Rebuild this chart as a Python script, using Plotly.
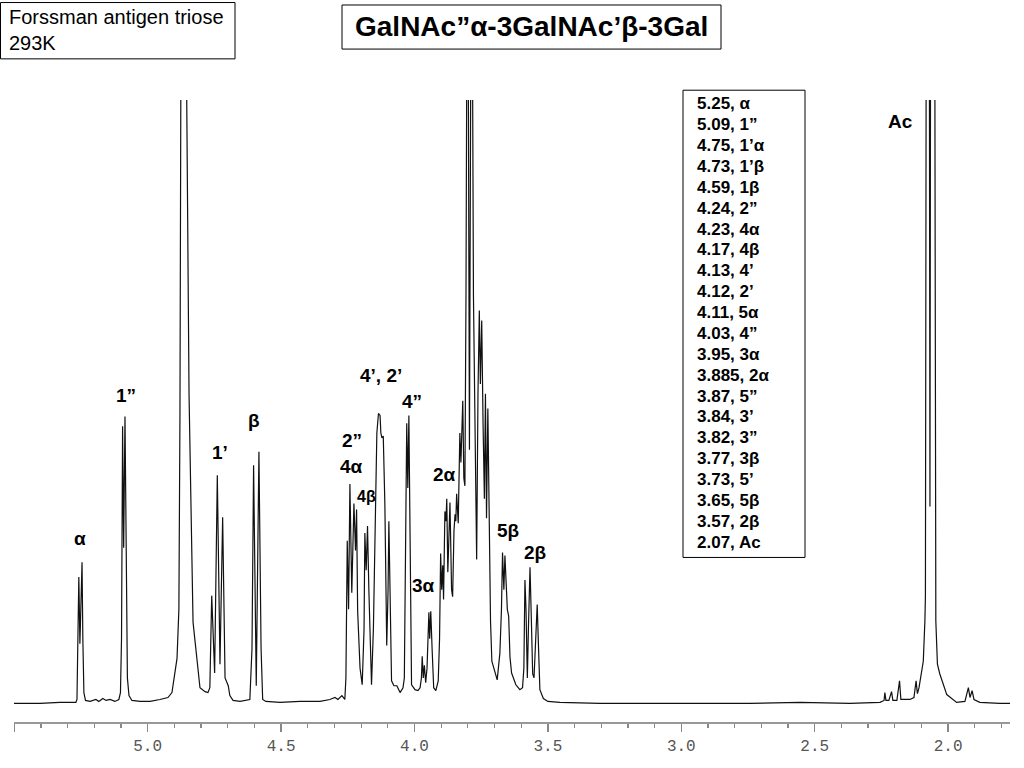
import plotly.graph_objects as go

# ---- spectrum trace (chemical shift in ppm, intensity in arbitrary units) ----
ppm = [
    5.501, 5.404, 5.329, 5.269,
    5.265, 5.260, 5.258, 5.254, 5.250, 5.246, 5.243, 5.239, 5.233,
    5.216, 5.194, 5.183, 5.168, 5.156, 5.141, 5.123, 5.108,
    5.102, 5.098, 5.094, 5.090, 5.085, 5.079, 5.076, 5.070, 5.059, 5.029, 4.991, 4.954, 4.924,
    4.909, 4.898, 4.890, 4.883, 4.879,
    4.875, 4.866, 4.856, 4.845, 4.830, 4.816, 4.804, 4.785, 4.774, 4.767,
    4.760, 4.749, 4.739, 4.729, 4.719, 4.710, 4.698, 4.692, 4.680, 4.654, 4.624,
    4.617, 4.609, 4.603, 4.593, 4.583, 4.575, 4.569, 4.557,
    4.504, 4.429, 4.354, 4.317, 4.298, 4.287, 4.272, 4.261,
    4.257, 4.252, 4.247, 4.242, 4.235, 4.227, 4.221, 4.217, 4.213, 4.204, 4.196,
    4.189, 4.186, 4.181, 4.176, 4.171, 4.165, 4.161,
    4.154, 4.146, 4.141, 4.135, 4.129, 4.126, 4.122, 4.117, 4.113, 4.111, 4.104, 4.099, 4.096,
    4.092, 4.086, 4.077, 4.066, 4.054, 4.043,
    4.038, 4.034, 4.029, 4.025, 4.021, 4.016, 4.011, 3.998, 3.987, 3.979,
    3.974, 3.971, 3.967, 3.963, 3.958, 3.953, 3.948, 3.946, 3.943, 3.939, 3.934, 3.928, 3.920, 3.911,
    3.906, 3.902, 3.898, 3.894, 3.891, 3.886, 3.882, 3.879, 3.875, 3.867, 3.861, 3.857, 3.852,
    3.848, 3.845, 3.842, 3.836, 3.831, 3.830, 3.826, 3.823, 3.819, 3.815, 3.811, 3.807, 3.801,
    3.794, 3.786, 3.779, 3.773, 3.767, 3.762, 3.757, 3.753, 3.748, 3.743, 3.738, 3.734, 3.730,
    3.725, 3.720, 3.715, 3.710, 3.700, 3.690, 3.680, 3.674,
    3.670, 3.665, 3.661, 3.657, 3.655, 3.652, 3.647, 3.644, 3.642, 3.636, 3.630, 3.620, 3.605,
    3.595, 3.590,
    3.586, 3.582, 3.577, 3.573, 3.567, 3.562, 3.557, 3.552, 3.547, 3.540, 3.535, 3.530, 3.517, 3.500,
    3.455, 3.305, 3.117, 2.930, 2.743, 2.555, 2.368, 2.255, 2.240, 2.237, 2.233, 2.222, 2.212,
    2.207, 2.192, 2.182, 2.177, 2.143, 2.128, 2.120, 2.115, 2.109, 2.104, 2.099, 2.093, 2.087,
    2.085, 2.082, 2.074, 2.068, 2.062, 2.050, 2.046, 2.040, 2.031, 2.005, 1.968, 1.937, 1.924,
    1.918, 1.910, 1.903, 1.881, 1.806, 1.768,
]
intensity = [
    0, 0, 1, 1,
    4, 76, 129, 61, 96, 144, 66, 11, 3,
    2, 4, 2, 5, 3, 4, 2, 4,
    11, 66, 283, 159, 293, 116, 26, 8, 3, 2, 2, 4, 6,
    11, 33, 46, 96, 296,
    700, 1400, 700, 316, 83, 49, 16, 12, 11, 16,
    110, 31, 233, 40, 190, 26, 18, 8, 3, 2, 3,
    4, 56, 243, 18, 257, 56, 4, 2,
    1, 2, 2, 4, 6, 4, 8, 4,
    26, 166, 96, 224, 113, 204, 156, 198, 94, 36, 19,
    76, 174, 136, 181, 116, 36, 19,
    76, 216, 276, 296, 294, 276, 271, 273, 216, 203, 59, 116, 186,
    106, 23, 18, 18, 11, 16,
    26, 156, 286, 220, 294, 156, 19, 14, 13, 16,
    26, 48, 26, 39, 21, 36, 76, 93, 66, 94, 56, 16, 13, 23,
    66, 153, 116, 141, 106, 196, 186, 209, 134, 205, 116, 109, 176,
    193, 186, 214, 184, 246, 276, 246, 272, 309, 230, 222, 416, 900,
    259, 900, 416, 256, 147, 316, 401, 326, 391, 286, 209, 316, 189,
    301, 156, 84, 43, 33, 24, 51, 96,
    154, 116, 151, 121, 118, 96, 89, 66, 47, 31, 26, 19, 14,
    16, 36,
    126, 96, 26, 76, 139, 86, 30, 26, 56, 101, 56, 14, 5, 2,
    1, 0, 0, 0, 0, 1, 0, 1, 3, 11, 3, 3, 12,
    3, 3, 23, 4, 4, 6, 23, 10, 16, 26, 34, 43, 84,
    110, 700, 1500, 201, 1500, 700, 84, 40, 30, 9, 1, 2, 16,
    6, 13, 4, 1, 0, 0,
]

# ---- axis ticks ----
tick_vals = [5.5, 5.0, 4.5, 4.0, 3.5, 3.0, 2.5, 2.0]
tick_text = ["", "5.0", "4.5", "4.0", "3.5", "3.0", "2.5", "2.0"]

# ---- peak labels and assignment list ----
peak_labels = ["α", "1”", "1’", "β", "2”", "4α", "4β", "4’, 2’", "4”", "2α", "3α", "5β", "2β", "Ac"]
assignments = [
    "5.25, α", "5.09, 1”", "4.75, 1’α", "4.73, 1’β", "4.59, 1β", "4.24, 2”", "4.23, 4α",
    "4.17, 4β", "4.13, 4’", "4.12, 2’", "4.11, 5α", "4.03, 4”", "3.95, 3α", "3.885, 2α",
    "3.87, 5”", "3.84, 3’", "3.82, 3”", "3.77, 3β", "3.73, 5’", "3.65, 5β", "3.57, 2β", "2.07, Ac",
]
title_text = "GalNAc”α-3GalNAc’β-3Gal"
sample_text = "Forssman antigen triose<br>293K"

W, H = 1024, 768
L, R, T, B = 14, 14, 100, 33


def px(x):
    return (x - L) / (W - L - R)


def py(y):
    return (H - B - y) / (H - T - B)


FONT = "Liberation Sans, Arial, sans-serif"

fig = go.Figure()
fig.add_trace(go.Scatter(
    x=ppm, y=intensity, mode="lines",
    line=dict(color="#111111", width=1.2),
    hoverinfo="skip", showlegend=False,
))

annotations = []
# peak label placement (ppm, height, font size)
label_pos = [
    (5.254, 168, 19), (5.081, 314, 19), (4.729, 256, 19), (4.602, 289, 19),
    (4.236, 268, 19), (4.236, 242, 19), (4.179, 211, 16), (4.125, 335, 19),
    (4.009, 308, 19), (3.889, 234, 19), (3.966, 120, 19), (3.650, 177, 19),
    (3.549, 154, 19), (2.180, 594, 19),
]
for txt, (lx, ly, fs) in zip(peak_labels, label_pos):
    annotations.append(dict(
        x=lx, y=ly, xref="x", yref="y", text="<b>" + txt + "</b>", showarrow=False,
        xanchor="center", yanchor="middle",
        font=dict(family=FONT, size=fs, color="black"),
    ))

# assignment list
for i, txt in enumerate(assignments):
    annotations.append(dict(
        x=px(695), y=py(104 + i * 21.3), xref="paper", yref="paper",
        text="<b>" + txt + "</b>", showarrow=False, xanchor="left", yanchor="middle",
        font=dict(family=FONT, size=17, color="black"),
    ))

# title and sample info
annotations.append(dict(
    x=px(531), y=py(25), xref="paper", yref="paper", text="<b>" + title_text + "</b>",
    showarrow=False, xanchor="center", yanchor="middle",
    font=dict(family=FONT, size=28, color="black"),
))
annotations.append(dict(
    x=px(7), y=py(29), xref="paper", yref="paper", text=sample_text, align="left",
    showarrow=False, xanchor="left", yanchor="middle",
    font=dict(family=FONT, size=20, color="black"),
))

shapes = [
    dict(type="rect", xref="paper", yref="paper", x0=px(0.5), x1=px(235), y0=py(0.5), y1=py(58),
         line=dict(color="black", width=1), fillcolor="rgba(0,0,0,0)", layer="above"),
    dict(type="rect", xref="paper", yref="paper", x0=px(342), x1=px(721), y0=py(3), y1=py(48),
         line=dict(color="black", width=1), fillcolor="rgba(0,0,0,0)", layer="above"),
    dict(type="rect", xref="paper", yref="paper", x0=px(683), x1=px(805), y0=py(90), y1=py(567),
         line=dict(color="black", width=1), fillcolor="white", layer="above"),
]

fig.update_layout(
    width=W, height=H,
    margin=dict(l=L, r=R, t=T, b=B, pad=0),
    paper_bgcolor="white", plot_bgcolor="white",
    showlegend=False,
    annotations=annotations,
    shapes=shapes,
    xaxis=dict(
        range=[5.501, 1.768], autorange=False,
        tickmode="array", tickvals=tick_vals, ticktext=tick_text,
        ticks="outside", ticklen=8, tickwidth=1.3, tickcolor="#888888",
        showline=True, linecolor="#999999", linewidth=1.5,
        showgrid=False, zeroline=False,
        tickfont=dict(family="Liberation Mono, Courier New, monospace", size=16, color="#555555"),
        minor=dict(tickmode="linear", tick0=2.0, dtick=0.1, ticks="outside", ticklen=4,
                   tickwidth=1.2, tickcolor="#888888", showgrid=False),
    ),
    yaxis=dict(range=[-19, 616], autorange=False, visible=False, showgrid=False, zeroline=False),
)

page_fix = (
    "document.documentElement.style.margin='0';"
    "document.documentElement.style.padding='0';"
    "document.documentElement.style.overflow='hidden';"
    "document.body.style.margin='0';"
    "document.body.style.padding='0';"
    "document.body.style.overflow='hidden';"
    "var gd=document.querySelector('.plotly-graph-div');"
    "gd.style.position='absolute';gd.style.top='0px';gd.style.left='0px';"
)

fig.write_html(
    "out.html",
    config={"displayModeBar": False, "staticPlot": True},
    post_script=page_fix,
)
